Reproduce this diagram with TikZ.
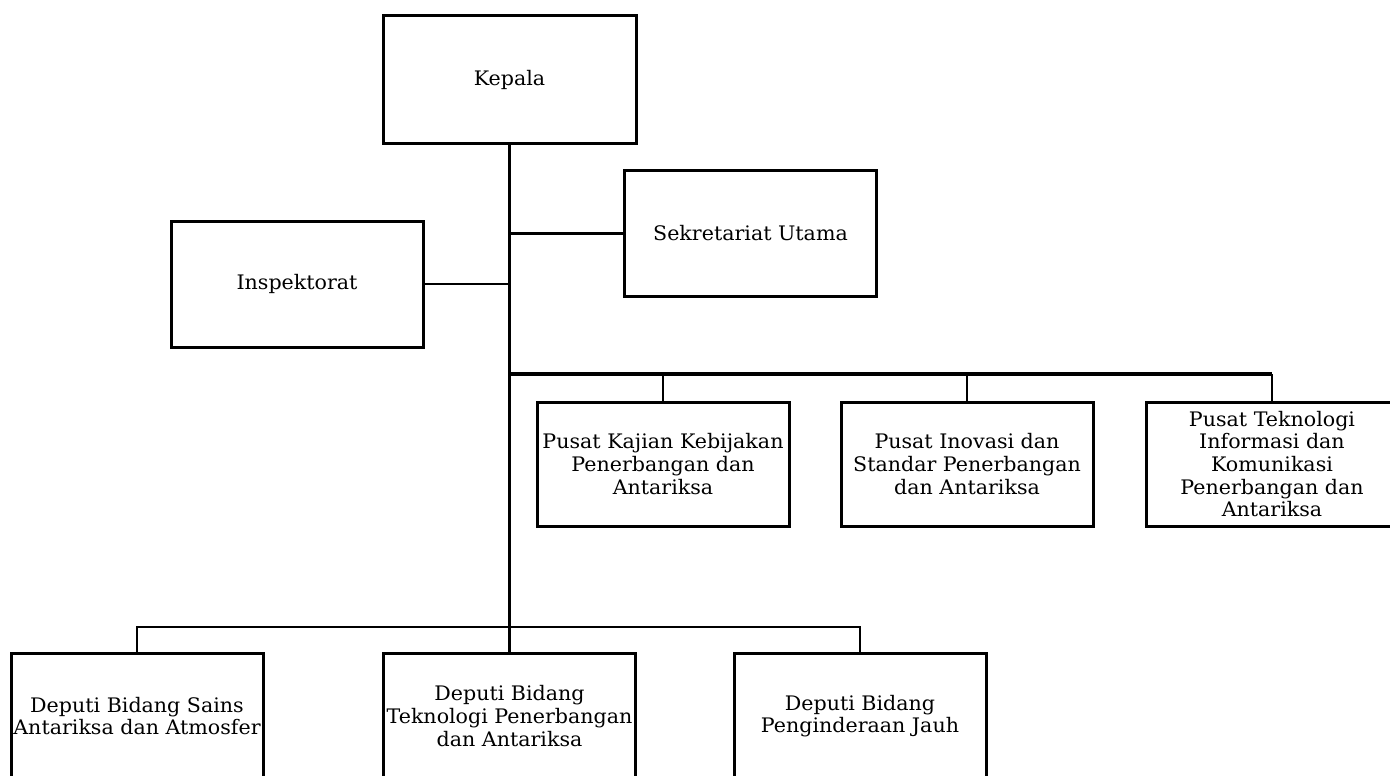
\documentclass[tikz,border=0pt]{standalone}
\usepackage{fontspec}
\newfontfamily\boxfont{DejaVu Serif}[FakeStretch=1.03]
\begin{document}
\begin{tikzpicture}[x=1pt,y=-1pt,
  box/.style={draw, line width=3pt, minimum width=252pt, minimum height=126pt,
    inner sep=0pt, align=center, font=\boxfont\fontsize{20}{22.7}\selectfont},
  conn/.style={line width=2.8pt},
  trunk/.style={line width=3.6pt}]
\clip (0,0) rectangle (1390,776);
\fill[white] (0,0) rectangle (1390,776);
\node[box, minimum width=253pt, minimum height=127pt] (kepala) at (509.5,79.5) {Kepala};
\node[box] (insp) at (297,284) {Inspektorat};
\node[box] (sekr) at (750.5,233.5) {Sekretariat Utama};
\node[box, minimum height=124pt] (pa) at (663,464) {Pusat Kajian Kebijakan\\Penerbangan dan\\Antariksa};
\node[box, minimum height=124pt] (pb) at (967,464) {Pusat Inovasi dan\\Standar Penerbangan\\dan Antariksa};
\node[box, minimum height=124pt] (pc) at (1272,464) {Pusat Teknologi\\Informasi dan\\Komunikasi\\Penerbangan dan\\Antariksa};
\node[box] (d1) at (137,716) {Deputi Bidang Sains\\Antariksa dan Atmosfer};
\node[box] (d2) at (509.5,716) {Deputi Bidang\\Teknologi Penerbangan\\dan Antariksa};
\node[box] (d3) at (860,716) {Deputi Bidang\\Penginderaan Jauh};
\coordinate (mb) at (509.5,374);
\coordinate (lb) at (509.5,627);
\draw[trunk] (kepala.south) -- (d2.north);
\draw[conn] (insp.east) -- (insp.east -| kepala.south);
\draw[conn] (sekr.west) -- (sekr.west -| kepala.south);
\draw[line width=3.8pt] (mb) -- (mb -| pc.north);
\draw[conn] (pa.north) -- (pa.north |- mb);
\draw[conn] (pb.north) -- (pb.north |- mb);
\draw[conn] (pc.north) -- (pc.north |- mb);
\draw[conn] (d1.north) |- (lb) -| (d3.north);
\end{tikzpicture}
\end{document}
